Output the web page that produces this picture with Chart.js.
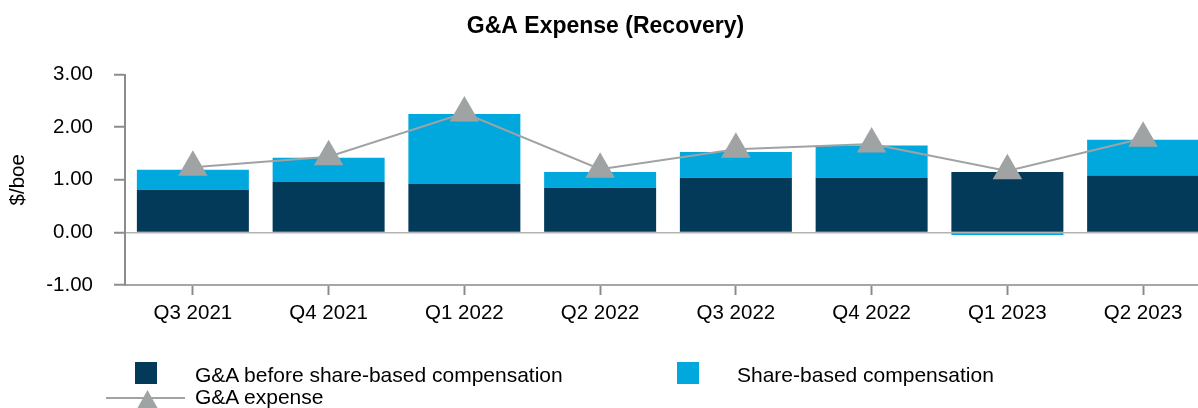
<!DOCTYPE html>
<html>
<head>
<meta charset="utf-8">
<script src="https://cdn.jsdelivr.net/npm/chart.js@4/dist/chart.umd.min.js"></script>
<style>
  html, body { margin: 0; padding: 0; background: #fff; overflow: hidden; }
  #wrap { position: relative; width: 1215px; height: 408px; }
  #c { position: absolute; left: 0; top: 0; }
  .lg { position: absolute; font-family: "Liberation Sans", Arial, sans-serif; font-size: 21px; line-height: 24px; color: #000; white-space: nowrap; }
  .box { position: absolute; width: 22px; height: 22px; }
  .lline { position: absolute; height: 2px; background: #a0a3a4; }
  .tri { position: absolute; width: 29px; height: 26px; background: #a0a3a4; clip-path: polygon(50% 0, 100% 100%, 0 100%); }
</style>
</head>
<body>
<div id="wrap">
  <canvas id="c" width="1215" height="408"></canvas>
  <div class="box" style="left:135px; top:362px; background:#033a5a;"></div>
  <div class="lg" style="left:195px; top:363px;">G&amp;A before share-based compensation</div>
  <div class="box" style="left:677px; top:362px; background:#00a8de;"></div>
  <div class="lg" style="left:737px; top:363px;">Share-based compensation</div>
  <div class="lline" style="left:106px; top:397px; width:79px;"></div>
  <div class="tri" style="left:133px; top:390px;"></div>
  <div class="lg" style="left:195px; top:385px;">G&amp;A expense</div>
</div>
<script>
const categories = ['Q3 2021', 'Q4 2021', 'Q1 2022', 'Q2 2022', 'Q3 2022', 'Q4 2022', 'Q1 2023', 'Q2 2023'];
const gaBeforeSbc = [0.81, 0.96, 0.92, 0.85, 1.04, 1.04, 1.15, 1.08];
const shareBasedComp = [0.38, 0.46, 1.33, 0.30, 0.49, 0.61, -0.05, 0.68];
const gaExpense = [1.24, 1.44, 2.27, 1.20, 1.58, 1.68, 1.17, 1.79];
const yTicks = [-1, 0, 1, 2, 3];

const FONT = '"Liberation Sans", Arial, sans-serif';

new Chart(document.getElementById('c'), {
  data: {
    labels: categories,
    datasets: [
      {
        type: 'line',
        label: 'G&A expense',
        data: gaExpense,
        stack: 'line',
        order: 0,
        borderColor: '#a0a3a4',
        borderWidth: 2,
        pointStyle: 'triangle',
        pointRadius: 17,
        pointHoverRadius: 17,
        pointBackgroundColor: '#a0a3a4',
        pointBorderColor: '#a0a3a4',
        pointBorderWidth: 0,
        tension: 0,
        fill: false
      },
      {
        type: 'bar',
        label: 'G&A before share-based compensation',
        data: gaBeforeSbc,
        stack: 'bars',
        order: 1,
        backgroundColor: '#033a5a',
        barPercentage: 0.825,
        categoryPercentage: 1.0
      },
      {
        type: 'bar',
        label: 'Share-based compensation',
        data: shareBasedComp,
        stack: 'bars',
        order: 1,
        backgroundColor: '#00a8de',
        barPercentage: 0.825,
        categoryPercentage: 1.0
      }
    ]
  },
  options: {
    responsive: false,
    animation: false,
    devicePixelRatio: 1,
    layout: { autoPadding: false, padding: { top: 0, left: 0, right: 4, bottom: 83 } },
    plugins: {
      legend: { display: false },
      tooltip: { enabled: false },
      title: {
        display: true,
        text: 'G&A Expense (Recovery)',
        color: '#000',
        font: { family: FONT, size: 23, weight: 'bold', lineHeight: 1.2 },
        padding: { top: 13, bottom: 34 }
      }
    },
    scales: {
      x: {
        stacked: true,
        offset: true,
        grid: {
          offset: false,
          drawOnChartArea: false,
          drawTicks: true,
          tickLength: 10,
          tickColor: '#8c8c8c',
          tickWidth: 2
        },
        border: { display: true, color: '#a6a6a6', width: 2 },
        ticks: {
          color: '#000',
          font: { family: FONT, size: 20.5 },
          padding: 6,
          maxRotation: 0,
          autoSkip: false
        },
        afterFit: (s) => { s.height = 40; }
      },
      y: {
        stacked: true,
        min: -1,
        max: 3,
        afterBuildTicks: (s) => { s.ticks = yTicks.map(v => ({ value: v })); },
        grid: {
          color: (ctx) => (ctx.tick && ctx.tick.value === 0) ? '#b3b3b3' : 'rgba(0,0,0,0)',
          lineWidth: 1.5,
          drawTicks: true,
          tickLength: 11,
          tickColor: '#8c8c8c',
          tickWidth: 2
        },
        border: { display: true, color: '#8c8c8c', width: 2 },
        ticks: {
          color: '#000',
          font: { family: FONT, size: 20.5 },
          padding: 21,
          callback: (v) => Number(v).toFixed(2)
        },
        title: {
          display: true,
          text: '$/boe',
          color: '#000',
          font: { family: FONT, size: 20.5, lineHeight: 1.2 },
          padding: { top: 6, bottom: 0 }
        },
        afterFit: (s) => { s.width = 125; }
      }
    }
  }
});
</script>
</body>
</html>
